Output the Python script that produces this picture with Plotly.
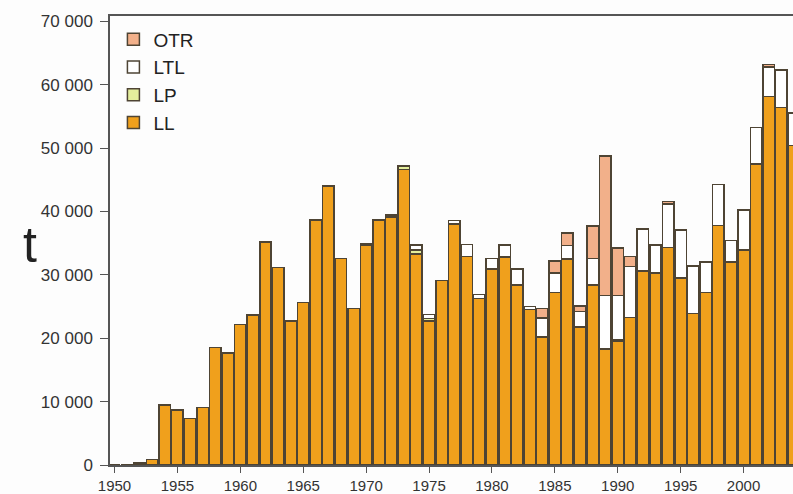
import plotly.graph_objects as go

years = list(range(1950, 2005))

LL = [0, 0, 300, 900, 9460, 8670, 7300, 9040, 18500, 17700,
      22190, 23650, 35200, 31180, 22700, 25600, 38640, 44000, 32600, 24700,
      34700, 38640, 39100, 46600, 33300, 22700, 29100, 38000, 32900, 26300,
      30900, 32800, 28400, 24500, 20200, 27200, 32500, 21800, 28400, 18300,
      19500, 23300, 30600, 30300, 34300, 29500, 23900, 27200, 37800, 32000,
      33900, 47500, 58100, 56400, 50400]

LP = [0, 0, 0, 0, 0, 0, 0, 0, 0, 0,
      0, 0, 0, 0, 0, 0, 0, 0, 0, 0,
      200, 0, 300, 600, 600, 400, 0, 0, 0, 0,
      0, 0, 0, 0, 0, 0, 0, 0, 0, 0,
      200, 0, 0, 0, 0, 0, 0, 0, 0, 0,
      0, 0, 0, 0, 0]

LTL = [0, 0, 0, 0, 0, 0, 0, 0, 0, 0,
       0, 0, 0, 0, 0, 0, 0, 0, 0, 0,
       0, 0, 0, 0, 800, 600, 0, 600, 1900, 600,
       1700, 1900, 2500, 500, 3000, 3100, 2100, 2400, 4200, 8400,
       7000, 8000, 6600, 4400, 6900, 7600, 7500, 4800, 6450, 3450,
       6300, 5750, 4700, 5900, 5100]

OTR = [0, 0, 0, 0, 0, 0, 0, 0, 0, 0,
       0, 0, 0, 0, 0, 0, 0, 0, 0, 0,
       0, 0, 0, 0, 0, 0, 0, 0, 0, 0,
       0, 0, 0, 0, 1500, 1900, 2000, 900, 5100, 22000,
       7500, 1550, 0, 0, 400, 0, 0, 0, 0, 0,
       0, 0, 400, 0, 0]

xticks = [1950, 1955, 1960, 1965, 1970, 1975, 1980, 1985, 1990, 1995, 2000]
yticks = [0, 10000, 20000, 30000, 40000, 50000, 60000, 70000]

series = [("LL", LL, "#F0A01C"), ("LP", LP, "#E4EE9C"),
          ("LTL", LTL, "#FFFFFF"), ("OTR", OTR, "#F2B08A")]

fig = go.Figure()
for name, vals, col in series:
    fig.add_trace(go.Bar(
        x=years, y=vals, name=name,
        marker=dict(color=col, line=dict(color="#4E4434", width=1.5)),
    ))

font_family = "Liberation Sans, Arial, sans-serif"
fig.update_layout(
    width=793, height=494,
    barmode="stack", bargap=0.09,
    paper_bgcolor="#FDFDFD", plot_bgcolor="#FDFDFD",
    margin=dict(l=110, r=0, t=16, b=29),
    separators=". ",
    font=dict(family=font_family, color="#333333", size=15),
    showlegend=True,
    legend=dict(traceorder="reversed", x=0.005, y=0.99, xanchor="left", yanchor="top",
                bgcolor="rgba(0,0,0,0)", font=dict(size=19, color="#222222"),
                itemwidth=30, tracegroupgap=0),
    xaxis=dict(range=[1949.64, 2003.93], tickvals=xticks, ticks="outside", ticklen=6,
               tickcolor="#555555", showline=True, linecolor="#555555", linewidth=1.5,
               mirror=True, showgrid=False, zeroline=False,
               tickfont=dict(size=15, color="#333333")),
    yaxis=dict(range=[0, 70820], tickvals=yticks, tickformat=",d", ticks="outside",
               ticklen=8, tickcolor="#555555", showline=True, linecolor="#555555",
               linewidth=1.5, showgrid=False, zeroline=False, ticklabelstandoff=4,
               tickfont=dict(size=17, color="#333333")),
    annotations=[dict(text="t", xref="paper", yref="paper", x=-0.13, y=0.49,
                      showarrow=False, font=dict(size=50, color="#222222"))],
)

fig.write_html("out.html", config={"displayModeBar": False},
               post_script="document.body.style.margin='0';document.body.style.overflow='hidden';")
